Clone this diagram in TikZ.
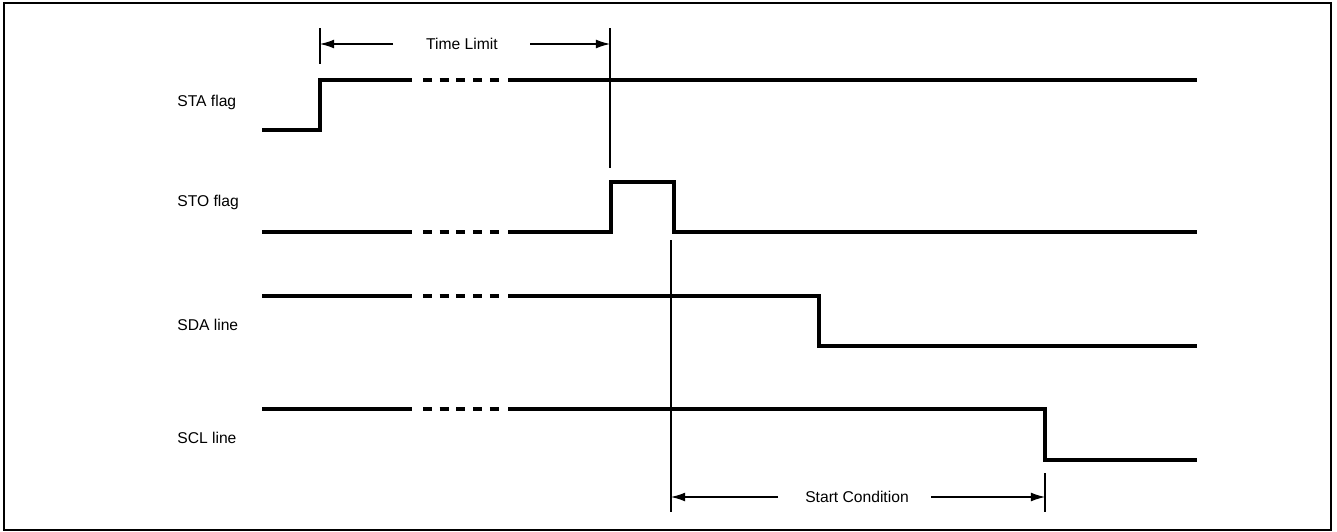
\documentclass[tikz,border=0pt]{standalone}
\usepackage{fontspec}
\setmainfont{Liberation Sans}
\usetikzlibrary{arrows.meta,positioning}
\tikzset{
  wave/.style={line width=2pt,line join=miter},
  gap/.style={line width=2pt,dash pattern=on 5.1pt off 4.4pt},
  dim/.style={line width=0.6pt},
  dimarrow/.style={line width=0.6pt,-{Latex[length=8pt,width=5pt]}},
  sig/.style={font=\fontsize{8.9}{10}\selectfont,anchor=west,inner sep=0pt},
  dimlabel/.style={font=\fontsize{8.9}{10}\selectfont,inner sep=0pt}
}
\begin{document}
\begin{tikzpicture}[x=0.02cm,y=-0.02cm]
\useasboundingbox (0,0) rectangle (1337,531);
\draw[line width=1.3pt] (4,3) rectangle (1331,530);
% signal names
\node[sig] (sta) at (177,102) {STA flag};
\node[sig] (sto) at (177,202) {STO flag};
\node[sig] (sda) at (177,325) {SDA line};
\node[sig] (scl) at (177,438) {SCL line};
% waveforms
\draw[wave] (262,130) -- (320,130) -- (320,80) -- (412,80);
\draw[wave] (508,80) -- (1197,80);
\draw[wave] (262,232) -- (412,232);
\draw[wave] (508,232) -- (611,232) -- (611,182) -- (674,182) -- (674,232) -- (1197,232);
\draw[wave] (262,296) -- (412,296);
\draw[wave] (508,296) -- (819,296) -- (819,346) -- (1197,346);
\draw[wave] (262,409) -- (412,409);
\draw[wave] (508,409) -- (1045,409) -- (1045,460) -- (1197,460);
\foreach \y in {80,232,296,409}
  \draw[gap] (423,\y) -- (500,\y);
% time limit
\coordinate (tl1) at (320,28);
\coordinate (tl2) at (320,64);
\coordinate (tr1) at (610,28);
\coordinate (tr2) at (610,168);
\node[dimlabel] (tlim) at (462,44) {Time Limit};
\draw[dim] (tl1) -- (tl2);
\draw[dim] (tr1) -- (tr2);
\draw[dimarrow] (393,44) -- (320,44);
\draw[dimarrow] (530,44) -- (610,44);
% start condition
\coordinate (sl1) at (671,240);
\coordinate (sl2) at (671,512);
\coordinate (sr1) at (1045,473);
\coordinate (sr2) at (1045,512);
\node[dimlabel] (scond) at (857,497) {Start Condition};
\draw[dim] (sl1) -- (sl2);
\draw[dim] (sr1) -- (sr2);
\draw[dimarrow] (778,497) -- (671,497);
\draw[dimarrow] (931,497) -- (1045,497);
\end{tikzpicture}
\end{document}
